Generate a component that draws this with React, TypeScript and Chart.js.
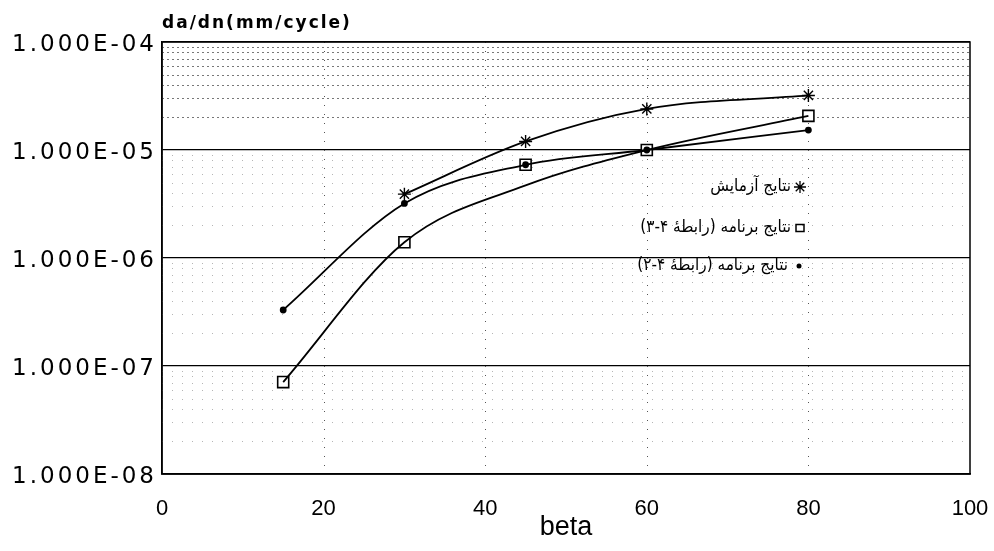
import React, { useEffect, useRef } from 'react';
import { Chart, registerables } from 'chart.js';

Chart.register(...registerables);

// ---- data ----
const betaExperiment = [30, 45, 60, 80];
const rateExperiment = [3.9e-6, 1.2e-5, 2.4e-5, 3.2e-5];

const betaProgram = [15, 30, 45, 60, 80];
const rateEq43Points = [7.1e-8, 1.4e-6, 7.3e-6, 1.0e-5, 2.07e-5];
const rateEq43Curve = [7.1e-8, 1.4e-6, 4.7e-6, 1.0e-5, 2.07e-5];
const rateEq42 = [3.3e-7, 3.2e-6, 7.3e-6, 1.0e-5, 1.53e-5];

const yDecades = [1e-8, 1e-7, 1e-6, 1e-5, 1e-4];
const xGridValues = [20, 40, 60, 80];
const xMin = 0;
const xMax = 100;
const xStep = 20;

const legendLabels = [
  'نتایج آزمایش',
  'نتایج برنامه (رابطهٔ ۴-۳)',
  'نتایج برنامه (رابطهٔ ۴-۲)',
];
const yTitle = 'da/dn(mm/cycle)';
const xTitle = 'beta';

const fmtSci = (v: number) => {
  const e = Math.round(Math.log10(v));
  return '1.000E' + (e < 0 ? '-' : '+') + String(Math.abs(e)).padStart(2, '0');
};

const pts = (xs: number[], ys: number[]) => xs.map((x, i) => ({ x, y: ys[i] }));

function drawStar(ctx: CanvasRenderingContext2D, x: number, y: number, r: number) {
  ctx.beginPath();
  for (let k = 0; k < 4; k++) {
    const a = (k * Math.PI) / 4;
    ctx.moveTo(x - r * Math.cos(a), y - r * Math.sin(a));
    ctx.lineTo(x + r * Math.cos(a), y + r * Math.sin(a));
  }
  ctx.stroke();
}

const decorPlugin = {
  id: 'decor',
  beforeDatasetsDraw(chart: any) {
    const { ctx, chartArea: a, scales } = chart;
    const ys = scales.y;
    const xs = scales.x;
    ctx.save();
    ctx.lineWidth = 1;
    for (let d = 0; d < yDecades.length - 1; d++) {
      const top = d === yDecades.length - 2;
      ctx.strokeStyle = top ? '#777' : '#b5b5b5';
      ctx.setLineDash(top ? [2, 3] : [1, 9]);
      for (let k = 2; k <= 9; k++) {
        const v = yDecades[d] * k;
        const py = Math.round(ys.getPixelForValue(v)) + 0.5;
        ctx.beginPath();
        ctx.moveTo(a.left, py);
        ctx.lineTo(a.right, py);
        ctx.stroke();
      }
    }
    ctx.strokeStyle = '#555';
    ctx.setLineDash([1, 8]);
    for (const v of xGridValues) {
      const px = Math.round(xs.getPixelForValue(v)) + 0.5;
      ctx.beginPath();
      ctx.moveTo(px, a.top);
      ctx.lineTo(px, a.bottom);
      ctx.stroke();
    }
    ctx.restore();
  },
  afterDraw(chart: any) {
    const { ctx, chartArea: a, scales } = chart;
    const ys = scales.y;
    ctx.save();
    ctx.strokeStyle = '#000';
    ctx.lineWidth = 1.5;
    ctx.setLineDash([]);
    ctx.strokeRect(a.left, a.top, a.right - a.left, a.bottom - a.top);

    ctx.fillStyle = '#000';
    ctx.font = '23px "DejaVu Sans"';
    (ctx as any).letterSpacing = '3px';
    ctx.textAlign = 'right';
    ctx.textBaseline = 'middle';
    for (const v of yDecades) {
      const py = ys.getPixelForValue(v);
      ctx.fillText(fmtSci(v), a.left - 5, py + 3);
    }
    ctx.font = 'bold 17px "DejaVu Sans"';
    (ctx as any).letterSpacing = '2px';
    ctx.textAlign = 'left';
    ctx.textBaseline = 'middle';
    ctx.fillText(yTitle, a.left, 24);
    (ctx as any).letterSpacing = '0px';

    // legend (inside plot area, right-to-left)
    const lx = 800;
    const rows = [187, 228, 266];
    ctx.font = '17px "DejaVu Sans Condensed", "DejaVu Sans"';
    ctx.textAlign = 'right';
    ctx.textBaseline = 'middle';
    (ctx as any).direction = 'rtl';
    ctx.lineWidth = 1.3;
    drawStar(ctx, lx, rows[0], 6);
    ctx.fillText(legendLabels[0], lx - 9, rows[0]);
    ctx.lineWidth = 1.5;
    ctx.strokeRect(lx - 4, rows[1] - 3.5, 8, 7);
    ctx.fillText(legendLabels[1], lx - 9, rows[1]);
    ctx.beginPath();
    ctx.arc(lx - 1, rows[2], 2.5, 0, Math.PI * 2);
    ctx.fill();
    ctx.fillText(legendLabels[2], lx - 12, rows[2]);
    ctx.restore();
  },
};

export default function App() {
  const ref = useRef<HTMLCanvasElement>(null);

  useEffect(() => {
    if (!ref.current) return;
    const chart = new Chart(ref.current, {
      type: 'line',
      data: {
        datasets: [
          {
            label: 'eq42',
            data: pts(betaProgram, rateEq42),
            borderColor: '#000',
            backgroundColor: '#000',
            borderWidth: 1.8,
            pointStyle: 'circle',
            pointRadius: 2.5,
            cubicInterpolationMode: 'monotone',
          },
          {
            label: 'eq43curve',
            data: pts(betaProgram, rateEq43Curve),
            borderColor: '#000',
            borderWidth: 1.8,
            pointRadius: 0,
            cubicInterpolationMode: 'monotone',
          },
          {
            label: 'experiment',
            data: pts(betaExperiment, rateExperiment),
            borderColor: '#000',
            backgroundColor: '#000',
            borderWidth: 1.8,
            pointStyle: 'star',
            pointRadius: 6.5,
            pointBorderWidth: 1.4,
            cubicInterpolationMode: 'monotone',
          },
          {
            label: 'eq43',
            data: pts(betaProgram, rateEq43Points),
            showLine: false,
            borderColor: '#000',
            backgroundColor: '#fff',
            pointStyle: 'rect',
            pointRadius: 7.8,
            pointBorderWidth: 1.6,
          },
        ],
      },
      options: {
        responsive: true,
        maintainAspectRatio: false,
        animation: false,
        layout: { padding: { left: 0, top: 42, right: 24, bottom: 0 } },
        plugins: {
          legend: { display: false },
          tooltip: { enabled: false },
        },
        scales: {
          x: {
            type: 'linear',
            min: xMin,
            max: xMax,
            ticks: {
              stepSize: xStep,
              color: '#000',
              font: { family: '"Liberation Sans", Arial, sans-serif', size: 22 },
              padding: 14,
              maxRotation: 0,
            },
            grid: { display: false },
            border: { display: true, color: '#000', width: 1.5 },
            title: {
              display: true,
              text: xTitle,
              color: '#000',
              font: { family: '"Liberation Sans", Arial, sans-serif', size: 27 },
              padding: { top: 0, bottom: 7 },
            },
            afterFit: (s: any) => {
              s.height = 77;
              s.paddingRight = 0;
            },
          },
          y: {
            type: 'logarithmic',
            min: yDecades[0],
            max: yDecades[yDecades.length - 1],
            afterBuildTicks: (s: any) => {
              s.ticks = yDecades.map((v) => ({ value: v }));
            },
            ticks: { display: false },
            grid: { color: '#000', lineWidth: 1.3, drawTicks: false },
            border: { display: true, color: '#000', width: 1.5 },
            afterFit: (s: any) => {
              s.width = 162;
            },
          },
        },
      },
      plugins: [decorPlugin],
    } as any);
    return () => chart.destroy();
  }, []);

  return (
    <div style={{ position: 'absolute', left: 0, top: 0, width: 994, height: 551, background: '#fff' }}>
      <canvas ref={ref} />
    </div>
  );
}
